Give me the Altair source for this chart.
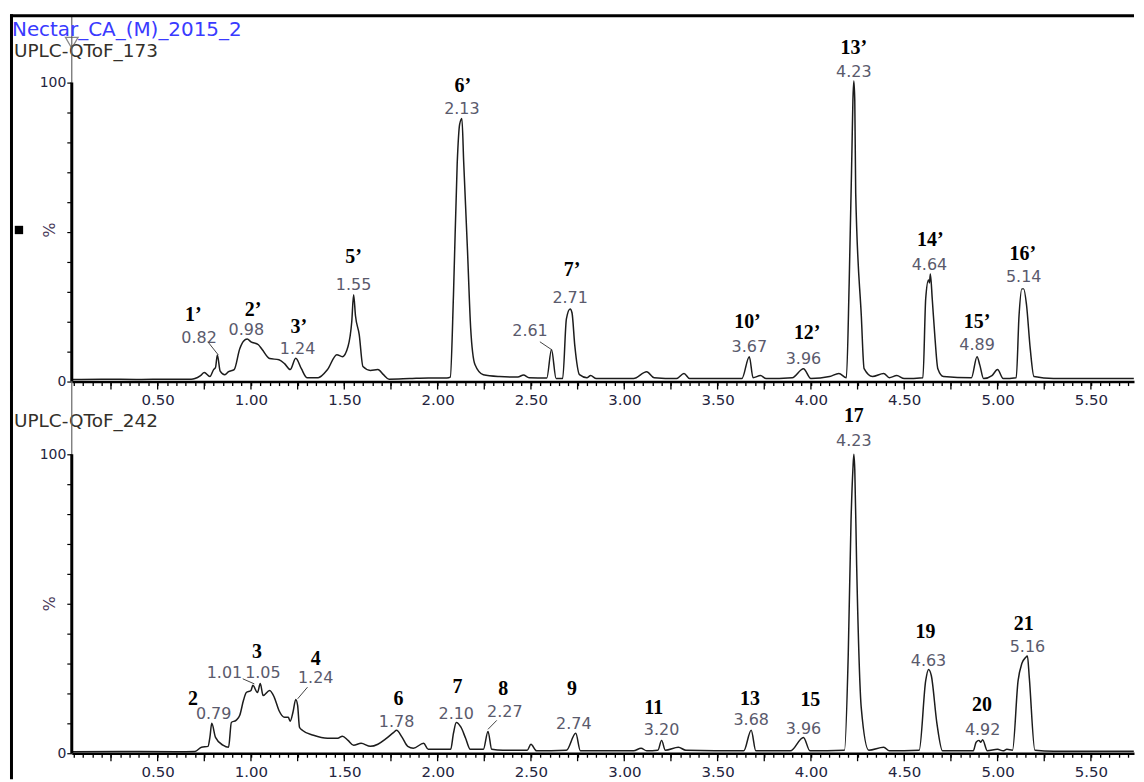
import altair as alt
import pandas as pd

# ---------------- data ----------------
# chromatogram traces: (retention time [min], relative intensity [%])
top_trace = [
    (0.04, 0.7), (0.20, 0.8), (0.40, 0.7), (0.55, 0.8), (0.68, 0.8), (0.70, 1.0),
    (0.73, 2.0), (0.75, 3.0), (0.78, 1.7), (0.80, 4.0), (0.81, 4.7), (0.82, 8.9),
    (0.835, 3.5), (0.86, 2.3), (0.88, 3.3), (0.91, 4.0), (0.94, 11.0), (0.96, 13.5),
    (0.98, 14.2), (1.00, 13.3), (1.04, 12.3), (1.06, 10.7), (1.10, 7.7), (1.15, 7.3),
    (1.18, 6.0), (1.21, 4.0), (1.24, 7.8), (1.27, 4.3), (1.30, 1.3), (1.36, 1.3),
    (1.41, 4.0), (1.46, 9.0), (1.49, 8.3), (1.52, 11.7), (1.54, 20.0), (1.55, 29.0),
    (1.56, 22.0), (1.58, 15.7), (1.60, 5.0), (1.64, 3.7), (1.68, 4.0), (1.71, 2.3),
    (1.74, 0.8), (1.85, 1.0), (1.95, 1.2), (2.05, 1.2), (2.068, 1.5), (2.085, 29.0),
    (2.105, 73.0), (2.118, 86.0), (2.13, 88.0), (2.14, 73.0), (2.16, 44.0), (2.177, 18.0),
    (2.20, 5.7), (2.245, 2.3), (2.33, 1.7), (2.43, 1.5), (2.46, 2.2), (2.49, 1.3),
    (2.585, 1.2), (2.61, 10.7), (2.635, 1.0), (2.67, 1.0), (2.69, 21.0), (2.71, 24.3),
    (2.72, 23.0), (2.735, 12.0), (2.76, 2.3), (2.80, 1.3), (2.82, 2.0), (2.85, 1.0),
    (3.05, 1.0), (3.12, 3.3), (3.16, 1.3), (3.28, 1.0), (3.32, 2.7), (3.35, 1.0),
    (3.50, 1.0), (3.63, 1.0), (3.67, 8.3), (3.69, 1.3), (3.73, 2.0), (3.76, 1.0),
    (3.90, 1.3), (3.96, 4.3), (4.00, 1.0), (4.10, 1.7), (4.15, 2.7), (4.19, 1.3),
    (4.205, 33.0), (4.22, 78.0), (4.225, 94.0), (4.23, 100.5), (4.235, 94.0), (4.24, 63.0),
    (4.27, 22.0), (4.285, 4.3), (4.33, 1.7), (4.39, 2.7), (4.42, 1.3), (4.46, 2.0),
    (4.50, 1.0), (4.60, 1.3), (4.615, 27.7), (4.63, 34.0), (4.635, 33.0), (4.64, 36.0),
    (4.65, 27.7), (4.665, 14.3), (4.68, 4.3), (4.71, 1.7), (4.86, 1.3), (4.89, 8.3),
    (4.905, 5.5), (4.925, 1.0), (4.97, 2.0), (5.00, 4.0), (5.03, 1.0), (5.10, 1.3),
    (5.115, 22.0), (5.13, 31.0), (5.14, 31.0), (5.155, 25.7), (5.175, 11.0), (5.195, 1.7),
    (5.30, 1.0), (5.50, 1.0), (5.73, 1.0),
]

bottom_trace = [
    (0.04, 0.5), (0.30, 0.6), (0.60, 0.5), (0.70, 0.6), (0.735, 2.0), (0.77, 2.3),
    (0.78, 5.3), (0.79, 10.0), (0.81, 5.3), (0.85, 2.7), (0.88, 2.0), (0.895, 10.3),
    (0.92, 11.0), (0.94, 12.7), (0.96, 17.7), (0.975, 20.3), (1.00, 21.0), (1.01, 22.7),
    (1.035, 20.3), (1.05, 23.3), (1.065, 19.3), (1.10, 21.0), (1.125, 18.7), (1.15, 14.3),
    (1.18, 12.0), (1.20, 12.0), (1.21, 10.7), (1.225, 13.7), (1.24, 18.0), (1.25, 16.0),
    (1.26, 8.7), (1.275, 7.7), (1.335, 6.0), (1.41, 5.0), (1.465, 5.0), (1.49, 5.7),
    (1.52, 4.3), (1.55, 2.7), (1.59, 3.3), (1.64, 2.3), (1.68, 3.0), (1.72, 4.7),
    (1.765, 7.0), (1.78, 7.7), (1.81, 5.3), (1.84, 2.3), (1.87, 1.7), (1.925, 3.3),
    (1.95, 1.3), (2.07, 1.3), (2.085, 6.7), (2.10, 10.3), (2.125, 8.7), (2.15, 5.0),
    (2.175, 1.3), (2.245, 1.3), (2.27, 7.3), (2.29, 1.3), (2.35, 1.0), (2.48, 1.0),
    (2.50, 3.0), (2.53, 0.8), (2.69, 1.0), (2.74, 6.7), (2.765, 0.8), (3.05, 0.8),
    (3.09, 1.7), (3.12, 0.8), (3.18, 1.0), (3.20, 4.3), (3.22, 1.0), (3.29, 2.0),
    (3.33, 1.0), (3.64, 0.8), (3.68, 7.7), (3.705, 0.8), (3.89, 0.8), (3.96, 5.3),
    (3.995, 0.8), (4.18, 1.0), (4.20, 33.0), (4.215, 78.0), (4.225, 95.0), (4.23, 100.0),
    (4.235, 95.0), (4.245, 63.0), (4.27, 15.0), (4.31, 1.0), (4.39, 2.0), (4.42, 0.8),
    (4.58, 1.0), (4.615, 24.3), (4.63, 28.0), (4.645, 26.0), (4.675, 10.0), (4.705, 0.8),
    (4.87, 0.8), (4.885, 3.7), (4.90, 4.3), (4.91, 3.7), (4.92, 4.5), (4.945, 0.8),
    (5.00, 1.3), (5.03, 0.8), (5.05, 1.3), (5.08, 1.0), (5.11, 24.3), (5.13, 30.0),
    (5.15, 32.0), (5.16, 32.5), (5.17, 25.3), (5.20, 1.0), (5.30, 0.7), (5.73, 0.7),
]

# retention-time labels (text, time, level)
top_rt_text = ["0.82", "0.98", "1.24", "1.55", "2.13", "2.61", "2.71", "3.67", "3.96", "4.23", "4.64", "4.89", "5.14"]
top_rt_time = [0.722, 0.975, 1.25, 1.55, 2.13, 2.495, 2.71, 3.67, 3.96, 4.23, 4.635, 4.89, 5.14]
top_rt_level = [14.7, 17.3, 11.0, 32.3, 91.1, 17.0, 28.0, 11.7, 7.4, 103.6, 38.9, 12.2, 35.0]

bottom_rt_text = ["0.79", "1.01", "1.05", "1.24", "1.78", "2.10", "2.27", "2.74", "3.20", "3.68", "3.96", "4.23", "4.63", "4.92", "5.16"]
bottom_rt_time = [0.80, 0.858, 1.064, 1.347, 1.78, 2.10, 2.36, 2.73, 3.20, 3.68, 3.96, 4.23, 4.63, 4.92, 5.16]
bottom_rt_level = [13.0, 26.7, 26.7, 25.0, 10.4, 13.2, 13.8, 9.9, 7.7, 11.0, 8.2, 104.3, 31.0, 7.7, 35.4]

# compound numbers (text, time, level)
top_cmp_text = ["1’", "2’", "3’", "5’", "6’", "7’", "10’", "12’", "13’", "14’", "15’", "16’"]
top_cmp_time = [0.691, 1.011, 1.256, 1.55, 2.135, 2.72, 3.66, 3.98, 4.23, 4.64, 4.89, 5.135]
top_cmp_level = [22.3, 24.0, 18.3, 41.7, 98.9, 37.2, 20.0, 16.1, 111.7, 47.2, 20.0, 42.8]

bottom_cmp_text = ["2", "3", "4", "6", "7", "8", "9", "11", "13", "15", "17", "19", "20", "21"]
bottom_cmp_time = [0.689, 1.032, 1.347, 1.79, 2.107, 2.352, 2.72, 3.158, 3.674, 3.997, 4.23, 4.614, 4.917, 5.14]
bottom_cmp_level = [18.3, 33.8, 31.6, 18.2, 22.1, 21.6, 21.6, 15.2, 18.2, 17.7, 112.7, 40.4, 16.0, 43.2]

# leader lines from a displaced label to its peak: (t_from, v_from, t_to, v_to)
top_leaders = [(0.769, 13.3, 0.825, 8.9), (2.548, 13.3, 2.61, 10.7)]
bottom_leaders = [(0.956, 24.9, 1.018, 23.2), (1.303, 22.1, 1.25, 18.2), (2.317, 11.0, 2.27, 8.0)]

# ---------------- layout constants ----------------
X0, X1 = 0.04, 5.731
W = 1066
TOP_H, TOP_MAX = 367, 122.33
BOT_H, BOT_MAX = 363, 121.0
SPACING = 10

x_scale = alt.Scale(domain=[X0, X1], nice=False, zero=False)
x_ticks = [round(0.05 * i, 2) for i in range(1, 115)]
x_long_ticks = [round(0.25 * i, 2) for i in range(1, 23)]
y_ticks = list(range(0, 101, 10))

x_axis = alt.Axis(
    values=x_ticks,
    labelExpr="abs(datum.value*2 - round(datum.value*2)) < 0.01 ? format(datum.value, '.2f') : ''",
    labelOverlap=False, labelFlush=False, labelBound=False,
    tickSize=4, tickColor="black", tickWidth=1.3,
    domainColor="black", domainWidth=2.6,
    labelFont="DejaVu Sans", labelFontSize=15, labelColor="#24243e", labelPadding=7,
    grid=False, title=None,
)

y_axis = alt.Axis(
    values=y_ticks,
    labelExpr="datum.value == 0 || datum.value == 100 ? datum.label : ''",
    domain=False,
    tickSize=5, tickColor="black", tickWidth=1.2,
    labelFont="DejaVu Sans", labelFontSize=14, labelColor="#24243e", labelPadding=1,
    grid=False, title=None,
)


def panel(trace, rt_text, rt_time, rt_level, cmp_text, cmp_time, cmp_level, leaders,
          ymax, height, trace_name, trace_name_level, pct_level, is_top):
    y_scale = alt.Scale(domain=[0, ymax], nice=False, zero=False)
    xn = lambda f: alt.X(f, type="quantitative", scale=x_scale, axis=x_axis)
    yn = lambda f: alt.Y(f, type="quantitative", scale=y_scale, axis=y_axis)

    df = pd.DataFrame(trace, columns=["t", "v"])
    line = alt.Chart(df).mark_line(
        color="#1c1c1c", strokeWidth=1.5, clip=True, interpolate="monotone"
    ).encode(x=xn("t"), y=yn("v"))

    rt_df = pd.DataFrame({"t": rt_time, "v": rt_level, "label": rt_text})
    rt = alt.Chart(rt_df).mark_text(
        font="DejaVu Sans", fontSize=16, color="#5a5a6c", baseline="middle", align="center"
    ).encode(x=xn("t"), y=yn("v"), text="label:N")

    cmp_df = pd.DataFrame({"t": cmp_time, "v": cmp_level, "label": cmp_text})
    cmp = alt.Chart(cmp_df).mark_text(
        font="Liberation Serif", fontWeight="bold", fontSize=20, color="black",
        baseline="middle", align="center"
    ).encode(x=xn("t"), y=yn("v"), text="label:N")

    ld_df = pd.DataFrame(leaders, columns=["t1", "v1", "t2", "v2"])
    ld = alt.Chart(ld_df).mark_rule(color="#444444", strokeWidth=1).encode(
        x=xn("t1"), y=yn("v1"), x2="t2:Q", y2="v2:Q"
    )

    # longer tick marks every 0.25 min, hanging below the time axis
    lt_df = pd.DataFrame({"t": x_long_ticks})
    long_ticks = alt.Chart(lt_df).mark_rule(color="black", strokeWidth=1.3).encode(
        x=xn("t"), y=alt.value(height), y2=alt.value(height + 8)
    )

    ax_df = pd.DataFrame({"t": [X0], "v0": [0.0], "v1": [100.0], "vt": [ymax],
                          "pct": [pct_level], "name": [trace_name], "nv": [trace_name_level]})
    y_thick = alt.Chart(ax_df).mark_rule(color="black", strokeWidth=3).encode(
        x=xn("t"), y=yn("v0"), y2="v1:Q"
    )
    if is_top:
        y_thin = alt.Chart(ax_df).mark_rule(color="#666666", strokeWidth=1.2).encode(
            x=xn("t"), y=yn("v1"), y2=alt.Y2("vt:Q")
        )
    else:
        y_thin = alt.Chart(ax_df).mark_rule(color="#666666", strokeWidth=1.2).encode(
            x=xn("t"), y=yn("v1"), y2=alt.value(-SPACING)
        )
    pct = alt.Chart(ax_df).mark_text(
        text="%", angle=90, fontSize=16, font="DejaVu Sans", color="#4a3a5a", xOffset=-24,
        baseline="middle", align="center"
    ).encode(x=xn("t"), y=yn("pct"))
    name = alt.Chart(ax_df).mark_text(
        font="DejaVu Sans", fontSize=18.5, color="#33302a", align="left", baseline="middle", dx=-58
    ).encode(x=xn("t"), y=yn("nv"), text="name:N")

    left_frame = alt.Chart(ax_df).mark_rule(color="black", strokeWidth=3).encode(
        x=alt.value(-60.5), y=alt.value(-1.5 if is_top else -SPACING),
        y2=alt.value(height + (SPACING if is_top else 26)),
    )

    layers = [line, name, rt, cmp, ld, long_ticks, y_thin, y_thick, pct, left_frame]

    if is_top:
        hdr_df = pd.DataFrame({"t": [X0], "v": [117.7], "label": ["Nectar_CA_(M)_2015_2"],
                               "tv": [113.3], "sq": [50.7], "top": [ymax]})
        header = alt.Chart(hdr_df).mark_text(
            font="DejaVu Sans", fontSize=20, color="#3a3aff", align="left", baseline="middle", dx=-60
        ).encode(x=xn("t"), y=yn("v"), text="label:N")
        marker = alt.Chart(hdr_df).mark_point(
            shape="triangle-down", filled=False, size=160, color="#555555", strokeWidth=1.3
        ).encode(x=xn("t"), y=yn("tv"))
        square = alt.Chart(hdr_df).mark_square(
            color="black", size=70, opacity=1, xOffset=-53
        ).encode(x=xn("t"), y=yn("sq"))
        top_frame = alt.Chart(hdr_df).mark_rule(color="black", strokeWidth=3).encode(
            y=yn("top"), x=alt.value(-62), x2=alt.value(W)
        )
        layers += [header, marker, square, top_frame]

    return alt.layer(*layers).properties(width=W, height=height)


top = panel(top_trace, top_rt_text, top_rt_time, top_rt_level,
            top_cmp_text, top_cmp_time, top_cmp_level, top_leaders,
            TOP_MAX, TOP_H, "UPLC-QToF_173", 110.7, 50.7, True)
bottom = panel(bottom_trace, bottom_rt_text, bottom_rt_time, bottom_rt_level,
               bottom_cmp_text, bottom_cmp_time, bottom_cmp_level, bottom_leaders,
               BOT_MAX, BOT_H, "UPLC-QToF_242", 111.0, 50.0, False)

chart = alt.vconcat(top, bottom, spacing=SPACING, bounds="flush").properties(
    padding={"left": 0, "top": 3.5, "right": 0, "bottom": 0},
    background="white",
).configure_view(stroke=None)

chart.save("out.html", embed_options={"renderer": "svg", "actions": False})
